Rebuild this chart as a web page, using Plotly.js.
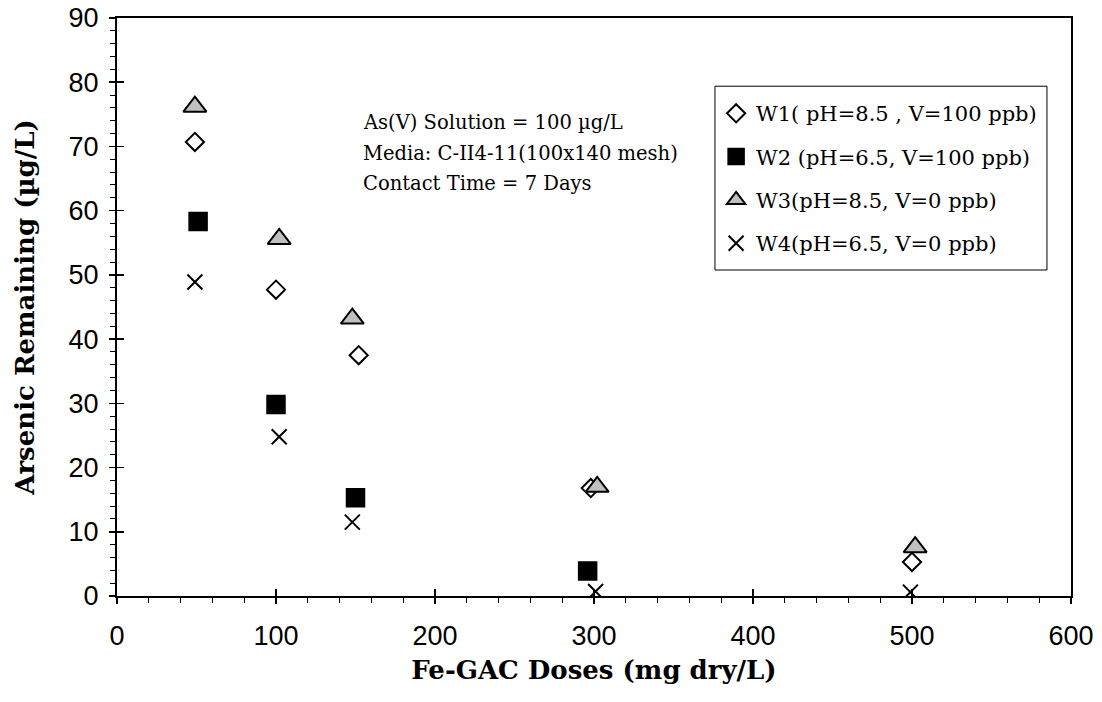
<!DOCTYPE html>
<html>
<head>
<meta charset="utf-8">
<script src="https://cdn.plot.ly/plotly-3.0.1.min.js"></script>
<style>
  html, body { margin: 0; padding: 0; background: #fff; }
  #chart { width: 1102px; height: 702px; }
</style>
</head>
<body>
<div id="chart"></div>
<script>
// Fe-GAC dose (mg dry/L) and arsenic remaining (µg/L) for each water
const w1Dose = [49, 100, 152, 298, 500];
const w1As   = [70.7, 47.7, 37.5, 16.8, 5.3];

const w2Dose = [51, 100, 150, 296];
const w2As   = [58.3, 29.8, 15.3, 3.9];

const w3Dose = [49, 102, 148, 302, 502];
const w3As   = [76.2, 55.6, 43.2, 17.0, 7.6];

const w4Dose = [49, 102, 148, 301, 499];
const w4As   = [48.9, 24.8, 11.5, 0.7, 0.6];

const seriesNames = [
  'W1( pH=8.5 , V=100 ppb)',
  'W2 (pH=6.5, V=100 ppb)',
  'W3(pH=8.5, V=0 ppb)',
  'W4(pH=6.5, V=0 ppb)'
];

const noteLines = [
  'As(V) Solution = 100 \u00b5g/L',
  'Media: C-II4-11(100x140 mesh)',
  'Contact Time = 7 Days'
];

const serif = 'DejaVu Serif, Liberation Serif, serif';
const sans = 'Liberation Sans, Arial, sans-serif';

const traces = [
  {
    x: w1Dose, y: w1As, name: seriesNames[0], legendgroup: 'a',
    type: 'scatter', mode: 'markers',
    marker: { symbol: 'diamond', size: 14, color: '#ffffff', line: { color: '#000', width: 2 } }
  },
  {
    x: w2Dose, y: w2As, name: seriesNames[1], legendgroup: 'b',
    type: 'scatter', mode: 'markers',
    marker: { symbol: 'square', size: 18, color: '#000000', line: { color: '#000', width: 1.5 } }
  },
  {
    x: w3Dose, y: w3As, name: seriesNames[2], legendgroup: 'c',
    type: 'scatter', mode: 'markers',
    marker: { symbol: 'triangle-up', size: 20, color: '#c0c0c0', line: { color: '#000', width: 2 } }
  },
  {
    x: w4Dose, y: w4As, name: seriesNames[3], legendgroup: 'd',
    type: 'scatter', mode: 'markers',
    marker: { symbol: 'x-thin-open', size: 15, color: '#000', line: { color: '#000', width: 2 } }
  }
];

// three note lines, stacked from the top
const noteY = [0.820, 0.766, 0.713];
const annotations = noteLines.map((t, i) => ({
  xref: 'paper', yref: 'paper', x: 0.256, y: noteY[i],
  xanchor: 'left', yanchor: 'middle', showarrow: false,
  text: t, font: { family: serif, size: 19.5, color: '#000' }
}));

const layout = {
  width: 1102, height: 702,
  margin: { l: 117, r: 31, t: 18, b: 106 },
  paper_bgcolor: '#fff', plot_bgcolor: '#fff',
  showlegend: true,
  legend: {
    x: 0.628, y: 0.870, xanchor: 'left', yanchor: 'top',
    borderwidth: 0, bgcolor: 'rgba(0,0,0,0)',
    font: { family: serif, size: 21, color: '#000' },
    tracegroupgap: 13
  },
  // frame around the legend entries
  shapes: [{
    type: 'rect', xref: 'paper', yref: 'paper', layer: 'below',
    x0: 0.6268, x1: 0.9748, y0: 0.564, y1: 0.882,
    line: { color: '#000', width: 1 }, fillcolor: '#fff'
  }],
  xaxis: {
    range: [0, 600], dtick: 100, tick0: 0,
    showline: true, linecolor: '#000', linewidth: 2, mirror: true,
    showgrid: false, zeroline: false,
    ticks: 'outside', ticklen: 6, tickwidth: 1.5, tickcolor: '#000',
    minor: { dtick: 20, ticks: 'outside', ticklen: 5, tickwidth: 1, tickcolor: '#000', showgrid: false },
    tickfont: { family: sans, size: 27, color: '#000' },
    ticklabelstandoff: 9,
    title: { text: '<b>Fe-GAC Doses (mg dry/L)</b>', font: { family: serif, size: 26, color: '#000' }, standoff: 10 }
  },
  xaxis2: {
    overlaying: 'x', anchor: 'y', range: [0, 600], dtick: 100, tick0: 0,
    showline: false, showgrid: false, zeroline: false, showticklabels: false,
    ticks: 'inside', ticklen: 7, tickwidth: 1.5, tickcolor: '#000'
  },
  yaxis: {
    range: [0, 90], dtick: 10, tick0: 0,
    showline: true, linecolor: '#000', linewidth: 2, mirror: true,
    showgrid: false, zeroline: false,
    ticks: 'outside', ticklen: 6, tickwidth: 1.5, tickcolor: '#000',
    minor: { dtick: 2, ticks: 'outside', ticklen: 5, tickwidth: 1, tickcolor: '#000', showgrid: false },
    tickfont: { family: sans, size: 27, color: '#000' },
    ticklabelstandoff: 5,
    title: { text: '<b>Arsenic Remaining (\u00b5g/L)</b>', font: { family: serif, size: 26, color: '#000' }, standoff: 26 }
  },
  yaxis2: {
    overlaying: 'y', anchor: 'x', range: [0, 90], dtick: 10, tick0: 0,
    showline: false, showgrid: false, zeroline: false, showticklabels: false,
    ticks: 'inside', ticklen: 7, tickwidth: 1.5, tickcolor: '#000'
  },
  annotations: annotations
};

// overlay axes carry only the inward half of the major ticks
traces.push({ x: [0], y: [0], xaxis: 'x2', yaxis: 'y2', type: 'scatter', mode: 'markers',
  marker: { opacity: 0 }, showlegend: false, hoverinfo: 'skip' });

Plotly.newPlot('chart', traces, layout, { staticPlot: true, displayModeBar: false });
</script>
</body>
</html>
